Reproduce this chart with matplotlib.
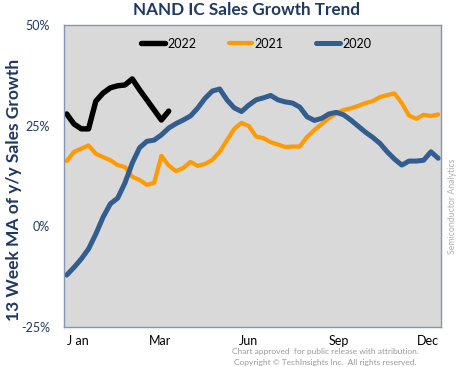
import matplotlib
matplotlib.use("Agg")
import matplotlib.pyplot as plt
from matplotlib.ticker import FuncFormatter

plt.rcParams['font.family'] = ['Lato', 'DejaVu Sans']

# weekly 13-week moving average of y/y growth, %
sales_2022 = [27.9, 25.4, 24.2, 24.2, 31.1, 33.1, 34.4, 34.9, 35.1, 36.6,
              33.9, 31.4, 28.9, 26.4, 28.6]
sales_2021 = [16.2, 18.5, 19.3, 20.1, 18.0, 17.2, 16.4, 15.2, 14.7, 12.3,
              11.5, 10.3, 10.8, 17.5, 15.1, 13.7, 14.5, 16.0, 15.0, 15.5,
              16.5, 18.5, 21.4, 24.2, 25.7, 24.9, 22.3, 21.9, 20.9, 20.3,
              19.7, 19.8, 19.8, 22.2, 23.9, 25.4, 26.9, 28.0, 28.9, 29.3,
              29.9, 30.6, 31.1, 32.1, 32.6, 33.0, 30.6, 27.5, 26.7, 27.7,
              27.4, 27.8]
sales_2020 = [-12.1, -10.2, -8.1, -5.6, -1.9, 2.3, 5.6, 7.0, 10.8, 15.7,
              19.5, 21.1, 21.4, 22.7, 24.4, 25.5, 26.4, 27.4, 29.4, 31.8,
              33.6, 34.1, 31.4, 29.4, 28.5, 30.1, 31.4, 31.9, 32.5, 31.4,
              30.9, 30.6, 29.6, 27.2, 26.3, 26.8, 27.9, 28.3, 27.7, 26.4,
              24.9, 23.4, 22.1, 20.6, 18.5, 16.7, 15.2, 16.2, 16.2, 16.4,
              18.5, 16.9]
month_ticks = [1.5, 12.8, 25.0, 37.3, 49.6]
month_labels = ['J an', 'Mar', 'Jun', 'Sep', 'Dec']
y_ticks = [-25, 0, 25, 50]

navy = '#1F3864'
fig = plt.figure(figsize=(4.59, 3.67), dpi=100)
ax = fig.add_axes([0.139, 0.109, 0.822, 0.823])
ax.set_facecolor('#D9D9D9')

ax.plot(range(len(sales_2022)), sales_2022, color='black', lw=3.9,
        label='2022', solid_capstyle='round', solid_joinstyle='round')
ax.plot(range(len(sales_2021)), sales_2021, color='#FF9A00', lw=3.0,
        label='2021', solid_capstyle='round', solid_joinstyle='round')
ax.plot(range(len(sales_2020)), sales_2020, color='#335D8F', lw=3.6,
        label='2020', solid_capstyle='round', solid_joinstyle='round')

ax.set_xlim(-0.4, 51.4)
ax.set_ylim(-25, 50)
ax.set_yticks(y_ticks)
ax.yaxis.set_major_formatter(FuncFormatter(lambda v, p: f'{v:.0f}%'))
ax.set_xticks(month_ticks)
ax.set_xticklabels(month_labels)
ax.tick_params(axis='y', length=0, labelsize=9, labelcolor=navy, pad=10)
ax.tick_params(axis='x', length=0, labelsize=9, labelcolor='black', pad=6)
for s in ax.spines.values():
    s.set_color('#8497B0')
    s.set_linewidth(1.0)

fig.text(0.031, 0.482, '13 Week MA of y/y Sales Growth', rotation=90,
         ha='center', va='center', fontsize=12.5, fontweight='bold', color=navy)
fig.text(0.536, 0.972, 'NAND IC Sales Growth Trend', ha='center', va='center',
         fontsize=12.3, fontweight='bold', color=navy)

ax.legend(loc='upper center', bbox_to_anchor=(0.51, 0.995), ncol=3, frameon=False,
          fontsize=9, handlelength=1.9, columnspacing=2.6, handletextpad=0.2)

fig.text(0.985, 0.439, 'Semiconductor Analytics', rotation=90, ha='center',
         va='center', fontsize=6.3, color='#B0B0B0')
fig.text(0.708, 0.042, 'Chart approved  for public release with attribution.',
         ha='center', va='center', fontsize=6, color='#999999')
fig.text(0.708, 0.013, 'Copyright \u00a9 TechInsights Inc.  All rights reserved.',
         ha='center', va='center', fontsize=6, color='#999999')

fig.savefig('out.png', dpi=100)
